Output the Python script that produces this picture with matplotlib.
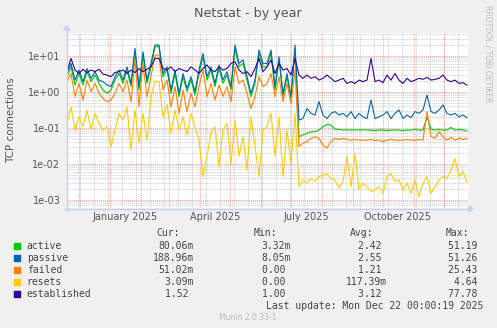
import numpy as np
import pandas as pd
import matplotlib
matplotlib.use('Agg')
import matplotlib.pyplot as plt
from matplotlib.patches import Rectangle, Polygon
from matplotlib.ticker import LogLocator, FixedLocator, NullFormatter, NullLocator

# daily-ish samples, one every 4 days
start = '2024-11-19'
step = '4D'

active = [2.6, 4.9, 1.53, 3.2, 1.53, 3.6, 1.9, 2.9, 1.7, 1.11, 0.90, 1.11, 2.1, 3.2, 1.7, 4.0, 1.38, 12.9, 1.11, 10.4, 1.7, 4.9, 17.8, 17.8, 2.6,
          4.0, 0.90, 3.2, 0.73, 2.6, 1.0, 2.1, 0.81, 3.2, 9.4, 2.1, 4.0, 1.38, 4.4, 1.7, 2.9, 1.11, 16.0, 4.9, 6.1, 2.1, 0.73, 1.7, 11.6, 4.9,
          4.9, 11.6, 1.11, 7.6, 0.73, 2.6, 0.59, 16.0, 0.056, 0.063, 0.070, 0.077, 0.077, 0.086, 0.107, 0.123, 0.119, 0.090, 0.090, 0.086, 0.088, 0.086, 0.088, 0.086, 0.088,
          0.086, 0.086, 0.083, 0.086, 0.086, 0.083, 0.086, 0.086, 0.086, 0.083, 0.086, 0.086, 0.090, 0.086, 0.086, 0.20, 0.090, 0.086, 0.090, 0.086, 0.086, 0.102, 0.086, 0.090, 0.086, 0.080]

passive = [3.2, 6.1, 2.1, 4.0, 1.9, 4.4, 2.35, 3.6, 2.1, 1.9, 1.53, 1.38, 2.6, 4.0, 2.1, 4.9, 1.7, 16.0, 1.38, 12.9, 2.1, 6.1, 19.8, 19.8, 3.2,
           4.9, 1.11, 4.0, 0.90, 3.2, 1.24, 2.6, 1.0, 4.0, 11.6, 2.6, 4.9, 1.7, 5.5, 2.1, 3.6, 1.38, 19.8, 6.1, 7.6, 2.6, 0.90, 2.1, 14.4, 6.1,
           6.1, 14.4, 1.38, 9.4, 0.90, 3.2, 0.73, 19.8, 0.163, 0.18, 0.34, 0.25, 0.225, 0.53, 0.225, 0.18, 0.25, 0.28, 0.225, 0.25, 0.20, 0.28, 0.18, 0.25, 0.20,
           0.18, 0.59, 0.18, 0.20, 0.225, 0.28, 0.18, 0.25, 0.31, 0.18, 0.225, 0.19, 0.28, 0.25, 0.31, 0.81, 0.28, 0.25, 0.31, 0.43, 0.25, 0.225, 0.25, 0.20, 0.225, 0.19]

failed = [1.9, 3.2, 0.73, 1.7, 0.59, 2.1, 1.0, 1.7, 0.90, 0.65, 0.53, 0.59, 0.90, 1.7, 1.0, 2.1, 0.53, 7.6, 0.38, 6.1, 0.73, 2.6, 10.4, 10.4, 1.11,
          2.1, 0.38, 1.38, 0.25, 1.11, 0.28, 0.90, 0.38, 1.38, 4.0, 0.73, 1.7, 0.59, 1.53, 0.73, 1.38, 0.53, 4.9, 1.7, 2.1, 0.90, 0.34, 0.73, 2.6, 1.38,
          1.7, 3.2, 0.73, 2.6, 0.53, 1.7, 0.47, 4.0, 0.030, 0.037, 0.041, 0.051, 0.056, 0.051, 0.033, 0.027, 0.041, 0.051, 0.047, 0.051, 0.047, 0.045, 0.047, 0.045, 0.045,
          0.045, 0.047, 0.044, 0.045, 0.041, 0.045, 0.047, 0.045, 0.045, 0.045, 0.047, 0.045, 0.045, 0.047, 0.045, 0.28, 0.056, 0.051, 0.077, 0.056, 0.045, 0.054, 0.045, 0.051, 0.047, 0.051]

resets = [0.132, 0.38, 0.086, 0.20, 0.107, 0.31, 0.086, 0.25, 0.132, 0.086, 0.107, 0.030, 0.086, 0.25, 0.163, 0.38, 0.024, 0.31, 0.037, 0.25, 0.045, 0.73, 1.9, 1.9, 0.20,
          0.43, 0.070, 0.31, 0.086, 0.20, 0.063, 0.25, 0.107, 0.045, 0.0044, 0.016, 0.070, 0.107, 0.0082, 0.086, 0.132, 0.010, 0.163, 0.016, 0.056, 0.0066, 0.20, 0.030, 0.0044, 0.086,
          0.107, 0.25, 0.016, 0.20, 0.0044, 0.086, 0.010, 0.25, 0.0023, 0.0035, 0.0029, 0.0039, 0.0032, 0.0044, 0.0048, 0.0053, 0.0039, 0.0035, 0.0021, 0.0032, 0.016, 0.0023, 0.019, 0.0019, 0.0029,
          0.0023, 0.0017, 0.0019, 0.0023, 0.0015, 0.0044, 0.0053, 0.0032, 0.0035, 0.0019, 0.0029, 0.0015, 0.0035, 0.0012, 0.0029, 0.0044, 0.0015, 0.0023, 0.0035, 0.0044, 0.0039, 0.0066, 0.014, 0.0044, 0.006, 0.0031]

established = [3.6, 8.4, 4.0, 3.2, 4.2, 3.4, 4.0, 3.6, 4.2, 3.1, 2.9, 2.6, 3.4, 3.6, 4.0, 3.2, 4.0, 3.4, 4.4, 3.6, 4.2, 4.9, 8.4, 8.4, 4.4,
               4.0, 4.9, 3.6, 4.4, 4.0, 3.6, 4.9, 4.0, 3.2, 4.4, 5.5, 4.0, 3.6, 4.9, 4.0, 4.4, 6.1, 6.8, 4.0, 3.2, 3.6, 2.6, 4.4, 8.4, 3.6,
               4.9, 7.6, 3.2, 6.1, 4.0, 4.4, 2.9, 8.4, 2.9, 2.35, 2.9, 2.35, 2.6, 2.1, 2.35, 2.9, 2.35, 1.9, 2.1, 2.35, 1.7, 1.9, 1.7, 2.1, 1.9,
               2.1, 8.4, 1.9, 2.1, 1.78, 2.9, 2.1, 3.2, 2.1, 1.7, 2.35, 1.9, 2.1, 2.35, 2.2, 2.5, 2.1, 2.2, 2.35, 2.9, 2.1, 1.9, 2.1, 1.7, 1.78, 1.52]

names = ['active', 'passive', 'failed', 'resets', 'established']
colors = ['#00CC00', '#0066B3', '#FF8000', '#FFCC00', '#330099']
cur = ['80.06m', '188.96m', '51.02m', '3.09m', '1.52']
mins = ['3.32m', '8.05m', '0.00', '0.00', '1.00']
avgs = ['2.42', '2.55', '1.21', '117.39m', '3.12']
maxs = ['51.19', '51.26', '25.43', '4.64', '77.78']
x_labels = ['January 2025', 'April 2025', 'July 2025', 'October 2025']
y_ticks = [1e-3, 1e-2, 1e-1, 1e0, 1e1]

W, H = 497, 328
fig = plt.figure(figsize=(W / 100, H / 100), dpi=100, facecolor='#F0F0F0')

def fx(px):
    return px / W

def fy(py):
    return 1 - py / H

ax = fig.add_axes([fx(66.7), fy(208.3), fx(467.5) - fx(66.7), fy(32.5) - fy(208.3)])
ax.set_facecolor('white')

dates = pd.date_range(start, periods=len(active), freq=step)
series = [active, passive, failed, resets, established]
for vals, c in zip(series, colors):
    ax.plot(dates, vals, color=c, lw=0.8, solid_joinstyle='round')

ax.set_yscale('log')
ax.set_ylim(10 ** -3.239, 10 ** 1.644)
jan1 = pd.Timestamp('2025-01-01')
ax.set_xlim(jan1 - pd.Timedelta(days=43.3), pd.Timestamp('2025-12-01') + pd.Timedelta(days=23.5))

# grids like rrdtool: red dotted majors, grey dotted minors
ax.yaxis.set_major_locator(FixedLocator(y_ticks))
ax.yaxis.set_minor_locator(LogLocator(base=10, subs=np.arange(2, 10), numticks=30))
ax.yaxis.set_minor_formatter(NullFormatter())
ax.yaxis.set_major_formatter(plt.FuncFormatter(lambda v, p: '%.0e' % v))
ax.grid(axis='y', which='major', color='#FF0000', alpha=0.35, ls=(0, (1, 1)), lw=0.75)
ax.grid(axis='y', which='minor', color='#B0B0B0', alpha=0.6, ls=(0, (1, 1)), lw=0.75)
for d in pd.date_range('2024-12-02', '2025-12-24', freq='14D'):
    ax.axvline(d, color='#B0B0B0', alpha=0.6, ls=(0, (1, 1)), lw=0.75, zorder=0.5)
for d in pd.date_range('2024-12-01', '2025-12-01', freq='MS'):
    ax.axvline(d, color='#FF0000', alpha=0.35, ls=(0, (1, 1)), lw=0.75, zorder=0.6)
ax.set_axisbelow(True)

label_dates = [pd.Timestamp('16 ' + s) for s in x_labels]
ax.set_xticks(label_dates)
ax.set_xticklabels(x_labels)
ax.xaxis.set_minor_locator(NullLocator())
ax.tick_params(axis='both', which='both', length=0, labelsize=7, labelcolor='#555555')
ax.tick_params(axis='y', pad=4.5)
ax.tick_params(axis='x', pad=3)
for s in ax.spines.values():
    s.set_visible(False)

# overlay in pixel coords for the rrdtool decorations and legend
ov = fig.add_axes([0, 0, 1, 1], facecolor='none')
ov.set_xlim(0, W)
ov.set_ylim(H, 0)
ov.axis('off')
axc = '#C8CFEA'
ov.plot([64.5, 469], [208.8, 208.8], color=axc, lw=1)
ov.plot([66.7, 66.7], [211, 30], color=axc, lw=1)
ov.add_patch(Polygon([[469, 205.8], [473, 208.8], [469, 211.8]], color=axc))
ov.add_patch(Polygon([[63.7, 30], [66.7, 26], [69.7, 30]], color=axc))

ov.text(248, 13, 'Netstat - by year', ha='center', va='center', fontsize=9.2, color='#555555')
ov.text(11, 120, 'TCP connections', ha='center', va='center', rotation=90, fontsize=7.5, color='#555555')
ov.text(488, 5, 'RRDTOOL / TOBI OETIKER', ha='center', va='top', rotation=270, fontsize=5.5, color='#BBBBBB')

mono = 'DejaVu Sans Mono'
tc = '#444444'
for txt, xr in zip(['Cur:', 'Min:', 'Avg:', 'Max:'], [180, 277, 373, 469]):
    ov.text(xr, 233.5, txt, ha='right', va='center', family=mono, fontsize=7, color=tc)

def fmt(s):
    return s if s.endswith('m') else s + ' '

for i, name in enumerate(names):
    yy = 245.7 + 12 * i
    ov.add_patch(Rectangle((14, yy - 3), 6, 6, color=colors[i]))
    ov.text(26.7, yy, name, ha='left', va='center', family=mono, fontsize=7, color=tc)
    ov.text(194, yy, fmt(cur[i]), ha='right', va='center', family=mono, fontsize=7, color=tc)
    ov.text(291, yy, fmt(mins[i]), ha='right', va='center', family=mono, fontsize=7, color=tc)
    ov.text(387, yy, fmt(avgs[i]), ha='right', va='center', family=mono, fontsize=7, color=tc)
    ov.text(483, yy, fmt(maxs[i]), ha='right', va='center', family=mono, fontsize=7, color=tc)

ov.text(483, 305.7, 'Last update: Mon Dec 22 00:00:19 2025', ha='right', va='center', family=mono, fontsize=7, color=tc)
ov.text(248, 317.3, 'Munin 2.0.33-1', ha='center', va='center', fontsize=5.5, color='#BBBBBB')

fig.savefig('out.png', dpi=100, facecolor=fig.get_facecolor())
